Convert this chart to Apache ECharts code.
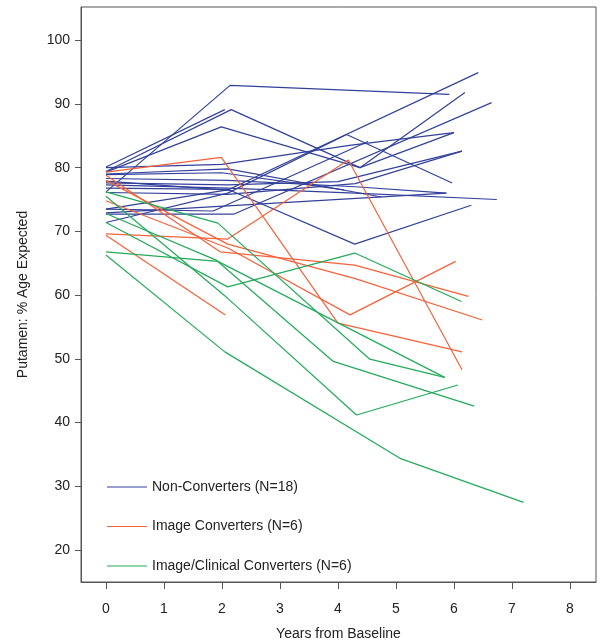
<!DOCTYPE html>
<html>
<head>
<meta charset="utf-8">
<script src="https://cdn.jsdelivr.net/npm/echarts@6/dist/echarts.min.js"></script>
<style>html,body{margin:0;padding:0;background:#fff;}#c{width:602px;height:644px;}</style>
</head>
<body>
<div id="c"></div>
<script>
const groupNames = ['Non-Converters (N=18)', 'Image Converters (N=6)', 'Image/Clinical Converters (N=6)'];
const groupColors = ['#33409a', '#f4623a', '#22ab5a'];
const xTicks = [0, 1, 2, 3, 4, 5, 6, 7, 8];
const yTicks = [20, 30, 40, 50, 60, 70, 80, 90, 100];

// each subject: [years from baseline, putamen % age expected]
const nonConverters = [
  [[0,76.2],[2.14,92.9],[5.92,91.5]],
  [[0,79.4],[2.16,89.1],[4.38,80.0],[6.0,85.5]],
  [[0,79.3],[1.99,86.4],[4.38,80.0],[6.19,91.8]],
  [[0,73.5],[2.1,76.5],[6.42,94.9]],
  [[0,72.7],[2.2,72.7],[6.65,90.2]],
  [[0,77.6],[2.1,77.3],[4.0,77.8],[6.14,82.6]],
  [[0,73.5],[1.85,73.2],[4.52,84.1]],
  [[0,76.8],[2.1,76.6],[4.29,68.0],[6.30,74.1]],
  [[0,71.4],[2.1,76.0],[4.15,85.2],[5.97,77.6]],
  [[0,72.9],[2.1,74.0],[5.87,76.0]],
  [[0,77.3],[2.1,76.8],[4.3,76.0],[6.74,75.0]],
  [[0,79.0],[2.1,79.8],[4.75,75.4]],
  [[0,77.9],[2.19,76.4]],
  [[0,80.1],[2.05,89.1]],
  [[0,78.3],[2.1,78.0],[4.3,77.0],[5.87,76.0]],
  [[0,80.0],[2.0,80.5],[4.2,83.5],[6.0,85.5]],
  [[0,78.9],[2.0,79.2],[4.1,76.5]],
  [[0,76.1],[2.1,75.8],[4.3,77.5],[6.14,82.6]]
];
const imageConverters = [
  [[0,79.3],[1.99,81.6],[4.0,55.6],[6.14,51.1]],
  [[0,69.6],[2.1,68.8],[4.18,81.2],[6.14,48.3]],
  [[0,78.8],[1.97,66.8],[4.29,64.7],[6.25,59.8]],
  [[0,69.4],[2.06,56.9]],
  [[0,74.8],[2.1,67.4],[4.21,56.9],[6.03,65.3]],
  [[0,78.0],[2.1,68.0],[4.3,62.6],[6.49,56.1]]
];
const clinicalConverters = [
  [[0,66.3],[2.05,51.1],[5.07,34.4],[7.2,27.5]],
  [[0,71.4],[2.1,61.3],[4.29,66.6],[6.13,59.0]],
  [[0,76.2],[1.93,71.3],[4.55,49.95],[5.84,47.1]],
  [[0,66.8],[1.93,65.3],[5.84,47.1]],
  [[0,75.5],[2.1,59.5],[4.32,41.2],[6.07,45.9]],
  [[0,72.8],[1.9,65.5],[3.92,49.6],[6.35,42.6]]
];

const groups = [nonConverters, imageConverters, clinicalConverters];
const series = [];
groups.forEach((g, gi) => {
  g.forEach(subj => {
    series.push({
      type: 'line', name: groupNames[gi], data: subj,
      symbol: 'none', silent: true,
      lineStyle: { color: groupColors[gi], width: 1.2 },
      itemStyle: { color: groupColors[gi] }
    });
  });
});

const font = 'Liberation Sans';
const chart = echarts.init(document.getElementById('c'), null, { renderer: 'canvas' });
chart.setOption({
  animation: false,
  backgroundColor: '#fff',
  grid: { left: 81, right: 6, top: 7, bottom: 62, show: true, borderColor: '#555', borderWidth: 1,
          containLabel: false, outerBoundsMode: 'none' },
  legend: {
    data: groupNames.map((n, i) => ({ name: n, icon: 'rect', itemStyle: { color: groupColors[i] } })),
    orient: 'vertical', left: 107, top: 479,
    itemWidth: 40, itemHeight: 1.2, itemGap: 23.5, padding: 0,
    textStyle: { fontFamily: font, fontSize: 14, color: '#222', lineHeight: 16 },
    selectedMode: false
  },
  xAxis: {
    type: 'value', min: -0.43, max: 8.45,
    name: 'Years from Baseline', nameLocation: 'middle', nameGap: 45,
    nameTextStyle: { fontFamily: font, fontSize: 14, color: '#222' },
    axisLine: { show: true, onZero: false, lineStyle: { color: '#555' } },
    axisTick: { show: true, length: 7, customValues: xTicks, lineStyle: { color: '#555' } },
    axisLabel: { customValues: xTicks, margin: 20, fontFamily: font, fontSize: 14, color: '#222' },
    splitLine: { show: false }
  },
  yAxis: {
    type: 'value', min: 15, max: 105.2,
    name: 'Putamen: % Age Expected', nameLocation: 'middle', nameGap: 51,
    nameTextStyle: { fontFamily: font, fontSize: 14, color: '#222' },
    axisLine: { show: true, onZero: false, lineStyle: { color: '#555' } },
    axisTick: { show: true, length: 6, customValues: yTicks, lineStyle: { color: '#555' } },
    axisLabel: { customValues: yTicks, margin: 11, fontFamily: font, fontSize: 14, color: '#222' },
    splitLine: { show: false }
  },
  series: series
});
</script>
</body>
</html>
